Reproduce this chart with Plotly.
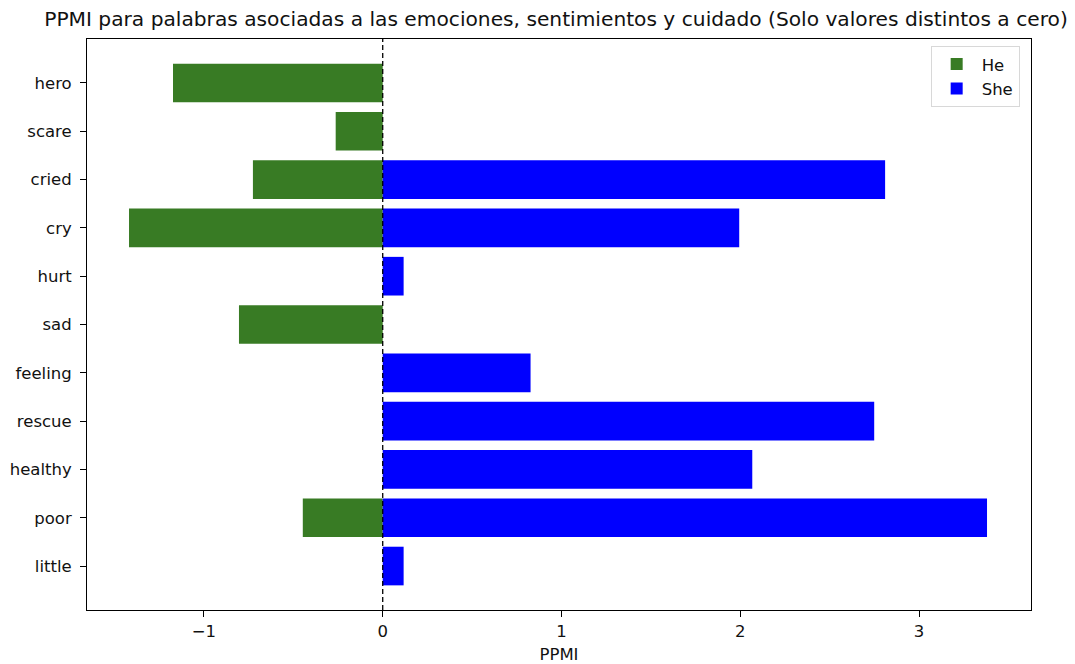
import plotly.graph_objects as go

# categories listed from bottom to top, like matplotlib's barh
words = ['little', 'poor', 'healthy', 'rescue', 'feeling', 'sad',
         'hurt', 'cry', 'cried', 'scare', 'hero']

# PPMI values (He drawn as negative), only non-zero ones
he_words = ['poor', 'sad', 'cry', 'cried', 'scare', 'hero']
he_vals = [-0.447, -0.804, -1.419, -0.726, -0.263, -1.173]

she_words = ['little', 'poor', 'healthy', 'rescue', 'feeling', 'hurt', 'cry', 'cried']
she_vals = [0.117, 3.380, 2.067, 2.749, 0.827, 0.117, 1.994, 2.810]

x_ticks = [-1, 0, 1, 2, 3]

fig = go.Figure()
fig.add_trace(go.Bar(y=he_words, x=he_vals, orientation='h', name='He',
                     marker=dict(color='#387b24', line=dict(width=0)), width=0.8))
fig.add_trace(go.Bar(y=she_words, x=she_vals, orientation='h', name='She',
                     marker=dict(color='#0000ff', line=dict(width=0)), width=0.8))

# dashed line at zero
fig.add_vline(x=0, line=dict(color='black', width=1.3, dash='5px,3px'))

font = 'DejaVu Sans'
# page body adds a small margin, so the figure is a bit smaller than the window
fig.update_layout(
    width=1067, height=656,
    barmode='overlay',
    plot_bgcolor='white', paper_bgcolor='white',
    margin=dict(l=79, r=44, t=31, b=54),
    font=dict(family=font, size=16.5, color='#111111'),
    title=dict(text='PPMI para palabras asociadas a las emociones, sentimientos y cuidado (Solo valores distintos a cero)',
               x=0.5136, xanchor='center', y=0.984, yanchor='middle',
               font=dict(family=font, size=20.2, color='#111111')),
    showlegend=True,
    legend=dict(x=0.988, xanchor='right', y=0.988, yanchor='top',
                bordercolor='#d8d8d8', borderwidth=1, bgcolor='white',
                font=dict(size=16.5), itemwidth=40),
)
fig.update_xaxes(range=[-1.654, 3.626], tickvals=x_ticks,
                 ticktext=['\u22121', '0', '1', '2', '3'],
                 ticks='outside', ticklen=6, tickcolor='black',
                 showline=True, linecolor='black', linewidth=1, mirror=True,
                 showgrid=False, zeroline=False, automargin=False,
                 title=dict(text='PPMI', font=dict(size=16.5), standoff=9))
fig.update_yaxes(type='category', categoryorder='array', categoryarray=words,
                 range=[-0.91, 10.91],
                 ticks='outside', ticklen=6, tickcolor='black',
                 ticklabelstandoff=5,
                 showline=True, linecolor='black', linewidth=1, mirror=True,
                 showgrid=False, zeroline=False, automargin=False)

fig.write_html("out.html")
